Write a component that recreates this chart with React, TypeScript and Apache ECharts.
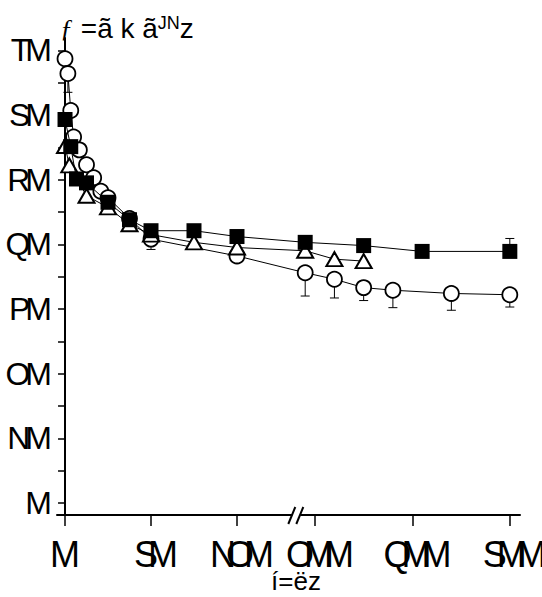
import { useEffect, useRef } from 'react';
import * as echarts from 'echarts';

// Tick positions and their printed labels
const xTickValues = [0, 60, 120, 200, 400, 600];
const xTickLabels = ['M', 'SM', 'NOM', 'OMM', 'QMM', 'SMM'];
const yTickValues = [0, 10, 20, 30, 40, 50, 60, 70];
const yTickLabels = ['M', 'NM', 'OM', 'PM', 'QM', 'RM', 'SM', 'TM'];
const yMinorValues = [5, 15, 25, 35, 45, 55, 65];

// Open circles
const circleTime = [0, 2, 4, 6, 10, 15, 20, 25, 30, 45, 60, 120, 180, 240, 300, 360, 480, 600];
const circleValue = [68.7, 66.4, 60.7, 56.6, 54.6, 52.3, 50.3, 48.2, 47.2, 44.0, 40.8, 38.2, 35.6, 34.6, 33.3, 32.9, 32.4, 32.2];
const circleErrTime = [2, 60, 180, 240, 300, 360, 480, 600];
const circleErrEnd = [63.5, 39.2, 32.0, 31.7, 31.3, 30.2, 29.8, 30.3];

// Filled squares
const squareTime = [0, 4, 8, 15, 30, 45, 60, 90, 120, 180, 300, 420, 600];
const squareValue = [59.3, 55.1, 50.1, 49.5, 46.5, 43.8, 42.1, 42.1, 41.2, 40.3, 39.8, 38.9, 38.9];
const squareErrTime = [600];
const squareErrEnd = [40.9];

// Open triangles
const triangleTime = [0, 3, 15, 30, 45, 60, 90, 120, 180, 240, 300];
const triangleValue = [55.2, 52.2, 47.5, 45.7, 43.1, 41.5, 40.3, 39.5, 39.0, 37.7, 37.4];

// The time axis is broken: the first part is linear up to the break, the
// second part (from 200 on) is drawn on a compressed scale.
const BREAK_T = 160;
const SEG2_START = 174.4;
const SEG2_RATIO = 0.34;
const axisPos = (t: number) => (t <= BREAK_T ? t : SEG2_START + (t - 200) * SEG2_RATIO);

const FONT = "'Liberation Sans', Arial, sans-serif";
const X_LABEL_SIZE = 36;
const Y_LABEL_SIZE = 32;

const pairs = (ts: number[], vs: number[]) => ts.map((t, i) => [axisPos(t), vs[i]]);

const errData = (ts: number[], ends: number[], srcT: number[], srcV: number[]) =>
  ts.map((t, i) => [axisPos(t), srcV[srcT.indexOf(t)], ends[i]]);

const renderErr = (_params: any, api: any) => {
  const x = api.value(0);
  const p0 = api.coord([x, api.value(1)]);
  const p1 = api.coord([x, api.value(2)]);
  const style = { stroke: '#000', lineWidth: 1 };
  return {
    type: 'group',
    children: [
      { type: 'line', shape: { x1: p0[0], y1: p0[1], x2: p1[0], y2: p1[1] }, style },
      { type: 'line', shape: { x1: p1[0] - 4.5, y1: p1[1], x2: p1[0] + 4.5, y2: p1[1] }, style },
    ],
  };
};

const GRID_LEFT = 57;
const GRID_BOTTOM_Y = 515;

export default function App() {
  const ref = useRef<HTMLDivElement>(null);

  useEffect(() => {
    const el = ref.current!;
    const chart = echarts.init(el, undefined, { renderer: 'svg' });

    // The printed tick labels are set tightly, with overlapping letters
    const tighten = () => {
      el.querySelectorAll('text').forEach((t) => {
        const s = (t.textContent || '').trim();
        const size = parseFloat(getComputedStyle(t).fontSize);
        if (size === Y_LABEL_SIZE && yTickLabels.includes(s)) {
          t.setAttribute('letter-spacing', '-5');
        } else if (size === X_LABEL_SIZE && xTickLabels.includes(s) && s.length > 1) {
          t.setAttribute('letter-spacing', '-10');
        }
      });
    };
    chart.on('finished', tighten);

    const xTickPos = xTickValues.map(axisPos);
    const labelFor = (v: number) => {
      const i = xTickPos.findIndex((p) => Math.abs(p - v) < 1e-6);
      return i >= 0 ? xTickLabels[i] : '';
    };

    const lineBase = {
      type: 'line' as const,
      lineStyle: { color: '#000', width: 1 },
      emphasis: { disabled: true },
    };

    chart.setOption({
      animation: false,
      grid: { left: GRID_LEFT, right: 22, top: 38, bottom: 597 - GRID_BOTTOM_Y, outerBoundsMode: 'none' },
      xAxis: {
        type: 'value',
        min: -5.6,
        max: 317.5,
        splitLine: { show: false },
        axisLine: { onZero: false, lineStyle: { color: '#000', width: 2 } },
        axisTick: { customValues: xTickPos, length: 11, lineStyle: { color: '#000', width: 1.5 } },
        axisLabel: {
          customValues: xTickPos,
          formatter: labelFor,
          margin: 21,
          color: '#000',
          fontFamily: FONT,
          fontSize: X_LABEL_SIZE,
        },
      },
      yAxis: {
        type: 'value',
        min: -1.86,
        max: 71.9,
        splitLine: { show: false },
        axisLine: { lineStyle: { color: '#000', width: 2 } },
        axisTick: {
          customValues: [...yTickValues, ...yMinorValues].sort((a, b) => a - b),
          length: 7,
          lineStyle: { color: '#000', width: 1.5 },
        },
        axisLabel: {
          customValues: yTickValues,
          formatter: (v: number) => yTickLabels[yTickValues.indexOf(Math.round(v))] ?? '',
          margin: 10,
          color: '#000',
          fontFamily: FONT,
          fontSize: Y_LABEL_SIZE,
        },
      },
      series: [
        {
          type: 'custom',
          renderItem: renderErr,
          encode: { x: 0, y: [1, 2] },
          data: errData(circleErrTime, circleErrEnd, circleTime, circleValue),
          z: 1,
          silent: true,
        },
        {
          type: 'custom',
          renderItem: renderErr,
          encode: { x: 0, y: [1, 2] },
          data: errData(squareErrTime, squareErrEnd, squareTime, squareValue),
          z: 1,
          silent: true,
        },
        {
          ...lineBase,
          name: 'circle',
          data: pairs(circleTime, circleValue),
          symbol: 'circle',
          symbolSize: 15,
          itemStyle: { color: '#fff', borderColor: '#000', borderWidth: 1.8 },
          z: 2,
        },
        {
          ...lineBase,
          name: 'triangle',
          data: pairs(triangleTime, triangleValue),
          symbol: 'triangle',
          symbolSize: [16, 14],
          itemStyle: { color: '#fff', borderColor: '#000', borderWidth: 2 },
          z: 3,
        },
        {
          ...lineBase,
          name: 'square',
          data: pairs(squareTime, squareValue),
          symbol: 'rect',
          symbolSize: 15,
          itemStyle: { color: '#000', borderColor: '#000', borderWidth: 0 },
          z: 4,
        },
      ],
    });

    // Axis break marks on the time axis, plus the two axis titles
    const bx = chart.convertToPixel({ xAxisIndex: 0 }, axisPos(BREAK_T)) as number;
    const ay = GRID_BOTTOM_Y;
    chart.setOption({
      graphic: [
        { type: 'rect', shape: { x: bx - 2, y: ay - 3, width: 8, height: 6 }, style: { fill: '#fff' }, z: 100 },
        { type: 'line', shape: { x1: bx - 6, y1: ay + 9, x2: bx + 1, y2: ay - 8 }, style: { stroke: '#000', lineWidth: 2 }, z: 101 },
        { type: 'line', shape: { x1: bx + 2, y1: ay + 9, x2: bx + 9, y2: ay - 8 }, style: { stroke: '#000', lineWidth: 2 }, z: 101 },
        {
          type: 'text',
          left: 60,
          top: 14,
          style: {
            text: '{f|ƒ} =ã k ã{s|JN}z',
            fill: '#000',
            font: `28px ${FONT}`,
            rich: {
              f: { fontFamily: "'Liberation Serif', serif", fontStyle: 'italic', fontSize: 26, fill: '#000' },
              s: { fontSize: 18, verticalAlign: 'top', padding: [0, 0, 10, 0], fill: '#000' },
            },
          },
          z: 100,
        },
        {
          type: 'text',
          x: 296,
          y: 581,
          style: { text: 'í=ëz', fill: '#000', font: `26px ${FONT}`, align: 'center', verticalAlign: 'middle' },
          z: 100,
        },
      ],
    });

    tighten();
    const raf = requestAnimationFrame(tighten);
    const timer = setTimeout(tighten, 50);

    return () => {
      cancelAnimationFrame(raf);
      clearTimeout(timer);
      chart.dispose();
    };
  }, []);

  return <div ref={ref} style={{ position: 'absolute', left: 0, top: 0, width: 542, height: 597 }} />;
}
